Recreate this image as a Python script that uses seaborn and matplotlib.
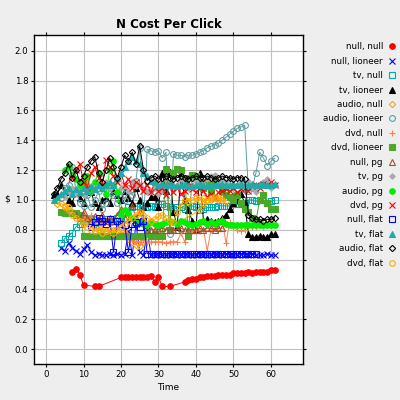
import matplotlib
matplotlib.use("Agg")
import matplotlib.pyplot as plt
import seaborn as sns

TIME = [2, 3, 4, 5, 6, 7, 8, 9, 10, 11, 12, 13, 14, 15, 16, 17, 18, 19, 20, 21,
        22, 23, 24, 25, 26, 27, 28, 29, 30, 31, 32, 33, 34, 35, 36, 37, 38, 39, 40, 41,
        42, 43, 44, 45, 46, 47, 48, 49, 50, 51, 52, 53, 54, 55, 56, 57, 58, 59, 60, 61]

labels = ["null, null", "null, lioneer", "tv, null", "tv, lioneer", "audio, null",
          "audio, lioneer", "dvd, null", "dvd, lioneer", "null, pg", "tv, pg",
          "audio, pg", "dvd, pg", "null, flat", "tv, flat", "audio, flat", "dvd, flat"]

# null, null (sparse time points)
null_null_t = [7, 8, 9, 10, 13, 14, 20, 21, 22, 23, 24, 25, 26, 27, 28, 29, 30, 31, 33,
               37, 38, 39, 40, 41, 42, 43, 44, 45, 46, 47, 48, 49, 50, 51, 52, 53, 54, 55,
               56, 57, 58, 59, 60, 61]
null_null = [0.52, 0.54, 0.50, 0.43, 0.42, 0.42, 0.48, 0.48, 0.48, 0.48, 0.48, 0.48, 0.48,
             0.48, 0.49, 0.45, 0.48, 0.42, 0.42, 0.45, 0.46, 0.47, 0.47, 0.48, 0.48, 0.49,
             0.49, 0.49, 0.50, 0.50, 0.50, 0.50, 0.51, 0.51, 0.51, 0.51, 0.52, 0.51, 0.52,
             0.52, 0.52, 0.52, 0.53, 0.53]

null_lioneer_start = 4
null_lioneer = [0.68, 0.66, 0.71, 0.68, 0.66, 0.64, 0.67, 0.70, 0.65, 0.63, 0.64, 0.63, 0.63,
                0.64, 0.63, 0.64, 0.63, 0.64, 0.79, 0.63, 0.84, 0.65, 0.63, 0.80, 0.63, 0.63,
                0.64, 0.63, 0.63, 0.63, 0.64, 0.63, 0.63, 0.64, 0.63, 0.63, 0.63, 0.64, 0.63,
                0.63, 0.63, 0.64, 0.63, 0.63, 0.64, 0.63, 0.63, 0.63, 0.64, 0.63, 0.63, 0.64,
                0.63, 0.63, 0.63, 0.64, 0.63, 0.63]

tv_null_start = 4
tv_null = [0.71, 0.74, 0.76, 0.78, 0.82, 0.84, 0.86, 0.87, 0.87, 0.85, 0.82, 0.85, 0.87,
           0.87, 0.86, 0.88, 0.86, 0.88, 0.95, 0.95, 0.96, 0.95, 0.96, 0.95, 0.96, 0.95,
           0.97, 0.97, 0.96, 0.95, 0.94, 0.95, 0.95, 0.94, 0.96, 0.96, 0.95, 0.93, 0.94,
           0.95, 0.95, 0.95, 0.96, 0.96, 0.96, 0.96, 0.97, 0.97, 0.97, 0.98, 1.00, 1.00,
           0.99, 1.00, 1.00, 0.98, 0.99, 1.00]

tv_lioneer_start = 2
tv_lioneer = [1.03, 1.04, 1.10, 1.05, 1.00, 0.98, 1.06, 1.01, 0.98, 1.08, 1.05, 0.98, 0.95,
              1.00, 1.01, 0.98, 1.06, 1.03, 1.00, 1.06, 1.01, 0.98, 1.08, 1.00, 0.95, 0.98,
              1.02, 1.02, 0.95, 1.18, 1.06, 1.19, 0.92, 0.82, 1.18, 1.00, 0.93, 0.86, 0.80,
              1.18, 0.86, 0.87, 0.86, 0.85, 0.86, 0.88, 0.90, 0.94, 0.98, 1.00, 1.04, 0.98,
              0.77, 0.75, 0.75, 0.76, 0.75, 0.75, 0.77, 0.77]

audio_null_t = [3, 4, 5, 6, 7, 8, 9, 10, 11, 12, 13, 14, 15, 16, 17, 18, 19, 20, 21, 22, 23,
                24, 25, 26, 41, 42, 43, 44, 45, 46, 47, 48]
audio_null = [0.97, 0.98, 0.96, 0.95, 0.92, 0.90, 0.88, 0.86, 0.88, 0.84, 0.82, 0.80, 0.81,
              0.79, 0.78, 0.80, 0.79, 0.77, 0.78, 0.74, 0.72, 0.70, 0.69, 0.72, 0.93, 0.97,
              1.00, 1.00, 1.01, 1.00, 1.01, 0.99]

audio_lioneer_start = 4
audio_lioneer = [1.01, 1.08, 1.10, 1.22, 1.06, 0.98, 0.96, 1.03, 0.95, 1.00, 1.06, 0.94,
                 0.98, 1.08, 1.03, 0.98, 1.06, 1.00, 1.08, 1.03, 1.13, 1.35, 0.86, 1.34,
                 1.33, 1.32, 1.33, 1.28, 1.32, 0.77, 1.31, 1.30, 1.30, 1.29, 1.30, 1.30,
                 1.31, 1.32, 1.33, 1.35, 1.36, 1.37, 1.38, 1.40, 1.42, 1.44, 1.46, 1.48,
                 1.49, 1.50, 1.06, 1.08, 1.18, 1.32, 1.28, 1.23, 1.26, 1.28]

dvd_null_start = 10
dvd_null = [0.88, 0.86, 0.90, 0.85, 0.88, 0.84, 0.86, 0.83, 0.85, 0.82, 0.84, 0.80, 0.75,
            0.73, 0.72, 0.72, 0.73, 0.71, 0.72, 0.72, 0.72, 0.72, 0.71, 0.72, 0.72, 0.72,
            0.78, 0.72, 0.79, 0.79, 0.80, 0.79, 0.80, 0.66, 0.80, 0.81, 0.80, 0.87, 0.71,
            0.85, 0.82, 0.80, 0.79, 0.80, 0.83, 0.82, 0.82, 0.83, 0.82, 0.83, 0.87, 0.83]

dvd_lioneer_start = 4
dvd_lioneer = [0.92, 0.91, 0.91, 0.91, 0.91, 0.90, 0.76, 0.76, 0.76, 0.76, 0.76, 0.76,
               0.76, 0.76, 0.76, 0.76, 0.76, 0.76, 0.76, 0.76, 0.76, 0.76, 0.76, 0.77,
               0.76, 0.77, 0.76, 0.76, 1.21, 0.80, 1.18, 1.21, 1.20, 1.15, 0.76, 1.17,
               1.16, 1.12, 1.08, 1.12, 1.05, 1.12, 1.10, 1.06, 1.03, 1.02, 1.00, 1.03,
               0.98, 0.94, 0.92, 0.88, 0.86, 1.00, 1.03, 0.98, 0.94, 0.94]

null_pg_start = 8
null_pg = [0.90, 0.88, 0.92, 0.88, 0.86, 0.89, 0.87, 0.90, 0.86, 0.88, 0.86, 0.90, 0.94,
           0.88, 0.92, 0.96, 0.88, 0.92, 0.86, 0.80, 0.80, 0.80, 0.80, 0.81, 0.80, 0.80,
           0.80, 0.80, 0.81, 0.80, 0.80, 0.80, 0.80, 0.81, 0.80, 0.81, 0.81, 0.80, 0.81,
           0.81]

tv_pg_start = 5
tv_pg = [1.02, 1.05, 1.08, 1.04, 1.07, 1.03, 1.09, 1.05, 1.08, 1.10, 1.07, 1.12, 1.08,
         1.10, 1.13, 1.08, 1.10, 1.06, 1.12, 1.09, 1.10, 1.07, 1.05, 1.06, 1.08, 1.04,
         1.06, 1.10, 1.12, 1.08, 1.10, 1.14, 1.12, 1.08, 1.10, 1.13, 1.09, 1.11, 1.14,
         1.16, 1.17, 1.13, 1.14, 1.12, 1.10, 1.08, 1.10, 1.12, 1.06, 1.13, 1.08, 1.05,
         1.10, 1.12, 1.14, 1.08, 1.10]

audio_pg_start = 5
audio_pg = [1.20, 1.23, 1.17, 1.14, 1.10, 1.12, 1.16, 1.06, 1.12, 1.18, 1.09, 1.04, 1.20,
            1.26, 1.05, 0.90, 0.93, 0.91, 0.88, 0.86, 0.85, 0.84, 0.83, 0.85, 0.84, 0.83,
            0.84, 0.85, 0.86, 0.85, 0.84, 0.86, 0.85, 0.84, 0.83, 0.84, 0.85, 0.86, 0.84,
            0.85, 0.84, 0.85, 0.86, 0.84, 0.83, 0.83, 0.83, 0.83, 0.83, 0.83, 0.83, 0.83,
            0.83, 0.83, 0.83, 0.83, 0.83]

dvd_pg_start = 7
dvd_pg = [1.15, 1.20, 1.24, 1.12, 1.08, 1.18, 1.22, 1.15, 1.10, 1.27, 1.22, 1.16, 1.12,
          1.18, 1.10, 1.14, 1.08, 1.12, 1.10, 1.06, 1.10, 1.05, 1.12, 1.06, 1.08, 1.03,
          1.10, 1.05, 1.08, 1.04, 1.06, 1.12, 1.07, 1.05, 1.08, 1.06, 1.02, 1.04, 1.01,
          1.05, 1.06, 1.07, 1.06, 1.08, 1.05, 1.07, 1.08, 1.06, 1.09, 1.10, 1.08, 1.11,
          1.10, 1.12, 1.10]

null_flat_start = 12
null_flat = [0.82, 0.85, 0.88, 0.86, 0.84, 0.87, 0.65, 0.86, 0.84, 0.83, 0.65, 0.84, 0.85,
             0.82, 0.86, 0.64, 0.64, 0.64, 0.64, 0.64, 0.64, 0.64, 0.64, 0.64, 0.64, 0.64,
             0.64, 0.64, 0.64, 0.64, 0.64, 0.64, 0.64, 0.64, 0.64, 0.64, 0.64, 0.64, 0.64,
             0.64, 0.64, 0.64, 0.64, 0.64, 0.64]

tv_flat_start = 2
tv_flat = [1.00, 1.02, 1.04, 1.06, 1.08, 1.04, 1.07, 1.05, 1.08, 1.06, 1.09, 1.07, 1.10,
           1.08, 1.10, 1.12, 1.10, 1.15, 1.18, 1.22, 1.26, 1.29, 1.26, 1.24, 1.18, 1.16,
           1.13, 1.12, 1.10, 1.11, 1.10, 1.11, 1.10, 1.09, 1.10, 1.11, 1.10, 1.09, 1.10,
           1.11, 1.10, 1.09, 1.10, 1.11, 1.10, 1.11, 1.10, 1.10, 1.11, 1.10, 1.11, 1.10,
           1.10, 1.11, 1.10, 1.10, 1.11, 1.10, 1.10, 1.11]

audio_flat_start = 2
audio_flat = [1.04, 1.08, 1.14, 1.18, 1.24, 1.15, 1.20, 1.12, 1.16, 1.22, 1.26, 1.29, 1.18,
              1.12, 1.20, 1.28, 1.22, 1.15, 1.22, 1.30, 1.26, 1.32, 1.24, 1.36, 1.20, 1.13,
              1.15, 1.16, 1.14, 1.15, 1.16, 1.15, 1.14, 1.15, 1.16, 1.15, 1.14, 1.15, 1.16,
              1.15, 1.15, 1.16, 1.15, 1.14, 1.15, 1.16, 1.15, 1.15, 1.14, 1.15, 1.15, 1.14,
              0.90, 0.88, 0.87, 0.87, 0.86, 0.87, 0.87, 0.88]

dvd_flat_start = 5
dvd_flat = [0.95, 0.93, 0.90, 0.88, 0.86, 0.84, 0.82, 0.80, 0.79, 0.80, 0.78, 0.79, 0.80,
            0.78, 0.80, 0.82, 0.84, 0.86, 0.88, 0.90, 0.92, 0.90, 0.88, 0.86, 0.87, 0.89,
            0.90, 0.88, 0.86, 0.85, 0.92, 0.96, 1.00, 0.99, 1.00, 1.01, 1.00, 1.01, 1.00,
            1.01, 1.02, 1.01, 1.00]


def span(start, vals):
    i0 = TIME.index(start)
    return TIME[i0:i0 + len(vals)]


series = [
    (null_null_t, null_null),
    (span(null_lioneer_start, null_lioneer), null_lioneer),
    (span(tv_null_start, tv_null), tv_null),
    (span(tv_lioneer_start, tv_lioneer), tv_lioneer),
    (audio_null_t, audio_null),
    (span(audio_lioneer_start, audio_lioneer), audio_lioneer),
    (span(dvd_null_start, dvd_null), dvd_null),
    (span(dvd_lioneer_start, dvd_lioneer), dvd_lioneer),
    (span(null_pg_start, null_pg), null_pg),
    (span(tv_pg_start, tv_pg), tv_pg),
    (span(audio_pg_start, audio_pg), audio_pg),
    (span(dvd_pg_start, dvd_pg), dvd_pg),
    (span(null_flat_start, null_flat), null_flat),
    (span(tv_flat_start, tv_flat), tv_flat),
    (span(audio_flat_start, audio_flat), audio_flat),
    (span(dvd_flat_start, dvd_flat), dvd_flat),
]

# color, marker, filled, size
styles = [
    ("#ff0000", "o", True, 4.0),
    ("#0000ff", "x", True, 4.0),
    ("#00aaaa", "s", False, 3.8),
    ("#000000", "^", True, 4.0),
    ("#ffa500", "D", False, 3.2),
    ("#5f9ea0", "o", False, 4.2),
    ("#ff7f50", "+", True, 4.6),
    ("#4aa82a", "s", True, 3.8),
    ("#a0522d", "^", False, 4.0),
    ("#aaaaaa", "D", True, 2.8),
    ("#00ee00", "o", True, 4.0),
    ("#ff0000", "x", True, 4.0),
    ("#0000ff", "s", False, 3.8),
    ("#20aaaa", "^", True, 4.0),
    ("#000000", "D", False, 3.2),
    ("#ffaa00", "o", False, 4.0),
]

plt.rcParams["font.family"] = ["DejaVu Sans"]
fig = plt.figure(figsize=(4, 4), dpi=100, facecolor="#eeeeee")
ax = fig.add_axes([0.086, 0.09, 0.671, 0.823])
ax.set_facecolor("white")

for (t, v), lab, (c, m, filled, ms) in zip(series, labels, styles):
    sns.lineplot(x=t, y=v, ax=ax, color=c, marker=m, markersize=ms,
                 markeredgecolor=c, markerfacecolor=(c if filled else "none"),
                 markeredgewidth=0.8, linewidth=0.7, label=lab, sort=False)

if ax.get_legend() is not None:
    ax.get_legend().remove()

ax.set_xlim(-3.1, 68.5)
ax.set_ylim(-0.10, 2.107)
ax.set_xticks([0, 10, 20, 30, 40, 50, 60])
ax.set_yticks([0.0, 0.2, 0.4, 0.6, 0.8, 1.0, 1.2, 1.4, 1.6, 1.8, 2.0])
ax.set_yticklabels(["0.0", "0.2", "0.4", "0.6", "0.8", "1.0", "1.2", "1.4", "1.6", "1.8", "2.0"])
ax.grid(True, color="#c0c0c0", linewidth=0.8)
ax.set_axisbelow(True)
for s in ax.spines.values():
    s.set_color("black")
    s.set_linewidth(1.0)
ax.tick_params(axis="both", labelsize=6.2, length=2.5, width=0.8, color="black", pad=1.8)
ax.tick_params(top=True, right=True, direction="out")

ax.set_title("N Cost Per Click", fontsize=8.5, fontweight="bold", pad=5)
ax.set_xlabel("Time", fontsize=6.5, labelpad=3)
ax.set_ylabel("\\$", fontsize=6.5, rotation=0, va="center", ha="center")
ax.yaxis.set_label_coords(-0.1, 0.5)

handles, labs = ax.get_legend_handles_labels()
fig.legend(handles, labs, loc="upper right", bbox_to_anchor=(0.99, 0.905),
           frameon=False, markerfirst=False, handlelength=0, handletextpad=1.0,
           fontsize=6.3, labelspacing=0.62, borderpad=0)

fig.savefig("out.png", dpi=100, facecolor=fig.get_facecolor())
